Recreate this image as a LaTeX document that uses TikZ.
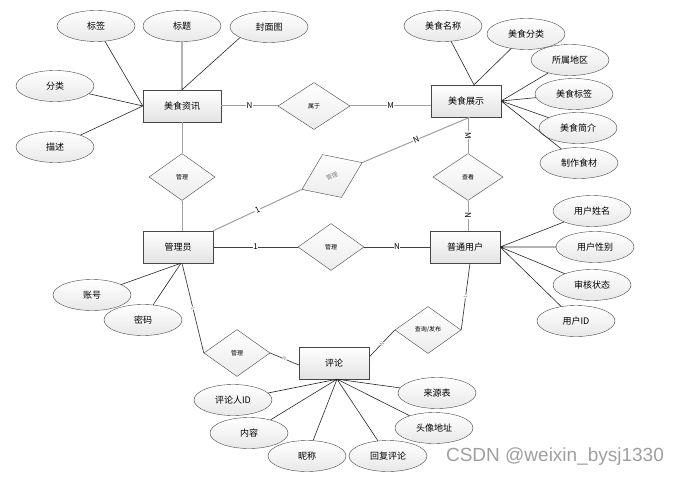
\documentclass[tikz,border=0pt]{standalone}
\usepackage{fontspec}
\setmainfont{Noto Sans CJK SC}
\newfontfamily\wmfont{Liberation Sans}
\usepackage{tikz}
\usetikzlibrary{positioning,shapes.geometric}

\begin{document}
\begin{tikzpicture}[
    x=1pt, y=-1pt,
    font=\fontsize{9}{10}\selectfont,
    ent/.style  = {draw=gray!55!black, rectangle, top color=white, bottom color=gray!22,
                   minimum width=70pt, minimum height=32pt, inner sep=1pt},
    attr/.style = {draw=gray!55!black, ellipse, top color=white, bottom color=gray!18,
                   minimum width=78pt, minimum height=31pt, inner sep=1pt},
    rel/.style  = {draw=gray!55!black, diamond, top color=white, bottom color=gray!15,
                   minimum width=66pt, minimum height=47pt, inner sep=0pt,
                   font=\fontsize{6}{7}\selectfont},
    link/.style = {draw=gray!75, line width=1pt},
    link2/.style= {draw=black!75, line width=0.7pt},
    al/.style   = {draw=black!85, line width=0.6pt},
    card/.style = {font=\fontsize{8}{8}\selectfont, fill=white, inner sep=0.6pt},
    tinycard/.style = {font=\fontsize{5}{5}\selectfont, text=gray, fill=white,
                       inner sep=0.3pt, sloped},
]
\useasboundingbox (0,0) rectangle (679,476);

% ---------------- Entities ----------------
\node[ent, minimum width=78pt] (info) at (182,106) {美食资讯};
\node[ent] (show)  at (466,101) {美食展示};
\node[ent] (admin) at (178,247) {管理员};
\node[ent] (user)  at (465,247) {普通用户};
\node[ent] (cmt)   at (334,363) {评论};

% ---------------- Relations ----------------
\node[rel, minimum width=72pt] (belong) at (314,106) {属于};
\node[rel] (mInfo) at (182,177) {管理};
\node[rel, rotate=24, text=gray] (mShow) at (332,176) {管理};
\node[rel] (mUser) at (331,247) {管理};
\node[rel, minimum width=70pt] (view) at (468,177) {查看};
\node[rel] (mCmt)  at (237,353) {管理};
\node[rel] (post)  at (428,330) {查询/发布};

% ---------------- Attributes: 美食资讯 ----------------
\node[attr] (tag)   at (96,26)  {标签};
\node[attr] (title) at (182,26) {标题};
\node[attr] (cover) at (269,27) {封面图};
\node[attr] (cat)   at (55,86)  {分类};
\node[attr] (desc)  at (55,147) {描述};

% ---------------- Attributes: 美食展示 ----------------
\node[attr] (fname)  at (443,26)  {美食名称};
\node[attr] (fcat)   at (526,34)  {美食分类};
\node[attr] (region) at (570,60)  {所属地区};
\node[attr] (ftag)   at (574,94)  {美食标签};
\node[attr] (fintro) at (578,128) {美食简介};
\node[attr] (fmat)   at (579,163) {制作食材};

% ---------------- Attributes: 普通用户 ----------------
\node[attr] (uname)  at (592,211) {用户姓名};
\node[attr] (usex)   at (595,247) {用户性别};
\node[attr] (ustate) at (592,285) {审核状态};
\node[attr] (uid)    at (576,321) {用户ID};

% ---------------- Attributes: 管理员 ----------------
\node[attr] (acct) at (92,295)  {账号};
\node[attr] (pwd)  at (143,320) {密码};

% ---------------- Attributes: 评论 ----------------
\node[attr] (cuid)    at (233,400) {评论人ID};
\node[attr] (ccont)   at (249,433) {内容};
\node[attr] (cnick)   at (307,456) {昵称};
\node[attr] (creply)  at (388,456) {回复评论};
\node[attr] (csrc)    at (437,393) {来源表};
\node[attr] (cavatar) at (434,428) {头像地址};

% ---------------- Attribute lines ----------------
\draw[al] (tag) -- (info.west) (cat) -- (info.west) (desc) -- (info.west)
          (title.south) -- (title.south |- info.north) (cover.200) -- (info.north);
\draw[al] (fname) -- ([xshift=8pt]show.north) (fcat) -- ([xshift=8pt]show.north)
          (region) -- (show.east) (ftag) -- (show.east)
          (fintro) -- (show.east) (fmat) -- (show.east);
\draw[al] (uname) -- (user.east) (usex) -- (user.east)
          (ustate) -- (user.east) (uid) -- (user.east);
\draw[al] (acct) -- ([xshift=3pt]admin.south) (pwd) -- ([xshift=3pt]admin.south);
\draw[al] (cuid) -- ([xshift=3pt]cmt.south) (ccont) -- ([xshift=3pt]cmt.south)
          (cnick) -- ([xshift=3pt]cmt.south) (creply) -- ([xshift=3pt]cmt.south)
          (csrc) -- ([xshift=3pt]cmt.south) (cavatar) -- ([xshift=3pt]cmt.south);

% ---------------- Relation lines with cardinalities ----------------
\draw[link] (info) -- (belong)
    node[card, midway]{N};
\draw[link] (belong.east) -- (belong.east -| show.west)
    node[card, midway]{M};
\draw[link] (info) -- (mInfo);
\draw[link] (mInfo.south) -- (mInfo.south |- admin.north);

\draw[link] (admin.north east) -- (mShow.west)
    node[card, midway, sloped]{1};
\draw[link] (mShow.east) -- ([xshift=4pt]show.south)
    node[card, midway, sloped]{N};

\draw[link2] (admin) -- (mUser)
    node[card, midway]{1};
\draw[link2] (mUser) -- (user)
    node[card, midway]{N};

\draw[link] (view.north |- show.south) -- (view.north)
    node[card, midway, sloped]{M};
\draw[link] (view.south) -- (view.south |- user.north)
    node[card, midway, sloped]{N};

\draw[link2] ([xshift=4pt]admin.south) -- (mCmt.west)
    node[tinycard, midway]{1};
\draw[link2] (mCmt.east) -- ([yshift=-2pt]cmt.west)
    node[tinycard, midway]{N};
\draw[link2] ([yshift=6pt]cmt.east) -- (post.west)
    node[tinycard, midway]{N};
\draw[link2] (post.east) -- ([xshift=5pt]user.south)
    node[tinycard, midway]{1};

% ---------------- Watermark ----------------
\node[text=gray!75, font=\wmfont\fontsize{19}{19}\selectfont] (mark) at (555,457)
    {CSDN @weixin\_bysj1330};

\end{tikzpicture}
\end{document}
